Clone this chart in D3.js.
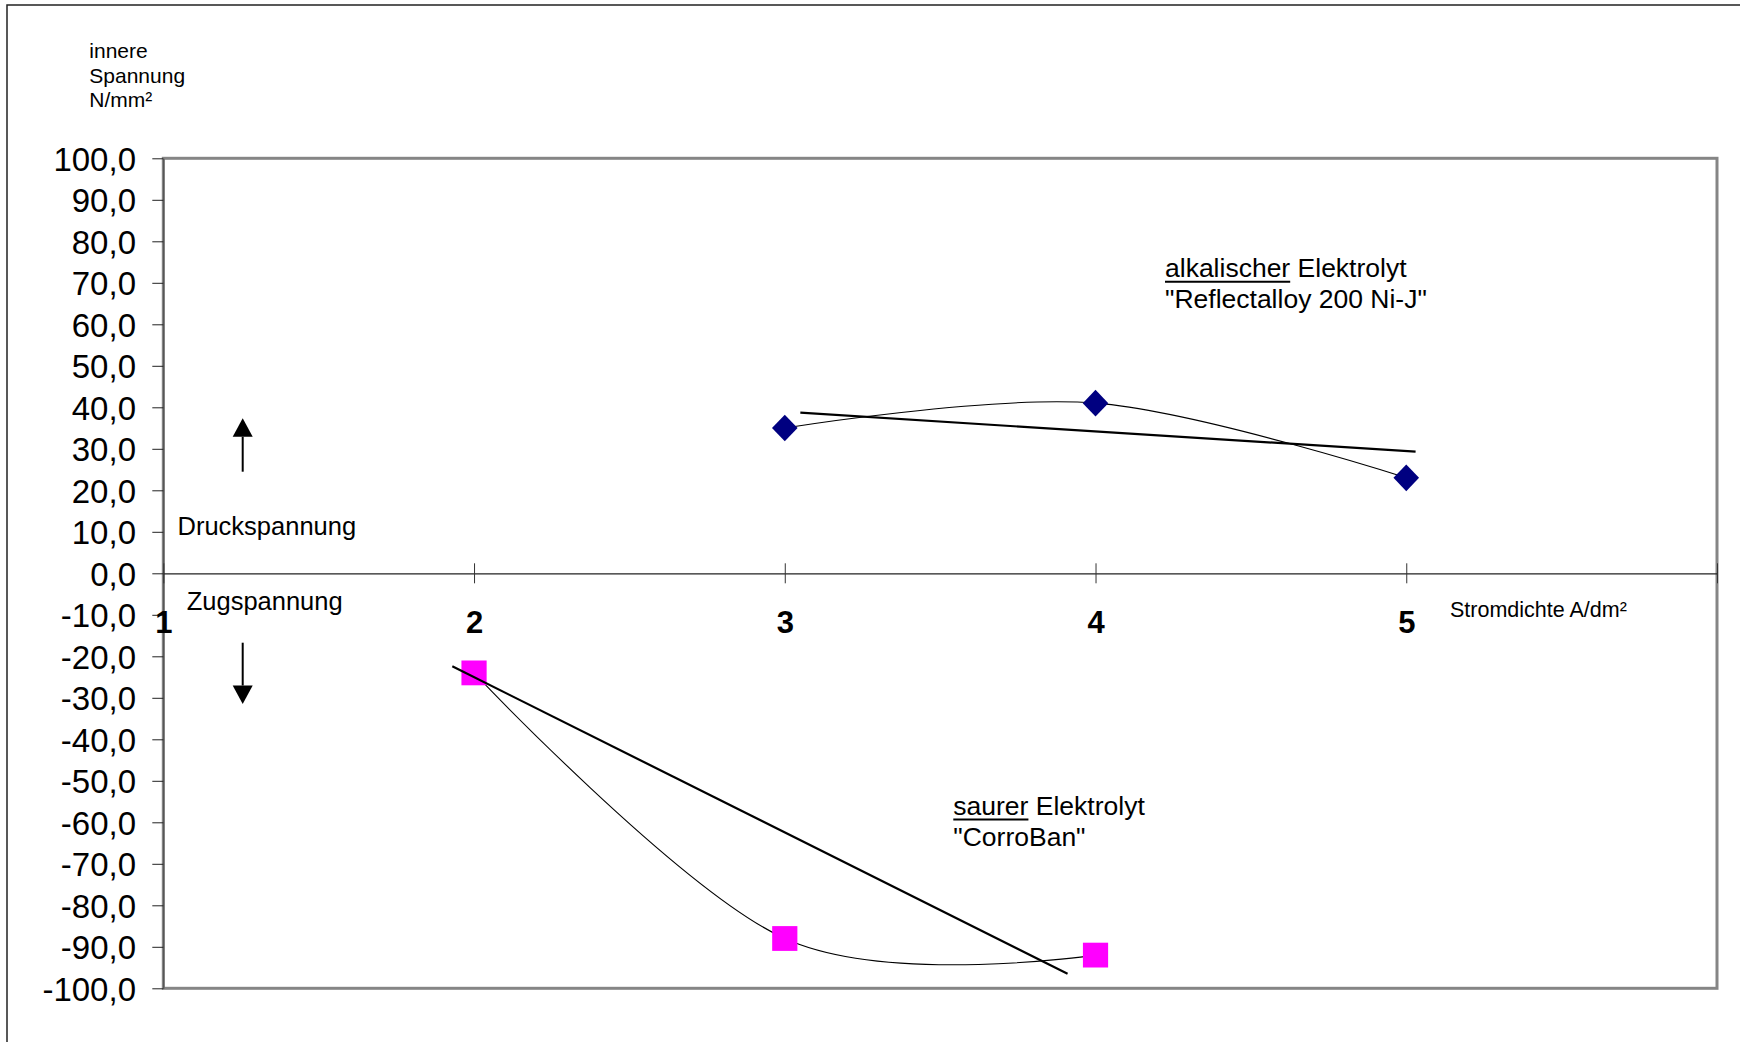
<!DOCTYPE html>
<html>
<head>
<meta charset="utf-8">
<script src="https://cdn.jsdelivr.net/npm/d3@7"></script>
<style>
  html, body { margin: 0; padding: 0; background: #fff; }
  svg { display: block; }
  text { font-family: "Liberation Sans", Arial, sans-serif; fill: #000; }
</style>
</head>
<body>
<svg id="chart" width="1740" height="1042"></svg>
<script>
// Current density categories (x) and tick values
const xTickValues = [1, 2, 3, 4, 5, 6];
const xTickLabels = ["1", "2", "3", "4", "5", ""];
const yTickValues = [-100, -90, -80, -70, -60, -50, -40, -30, -20, -10, 0, 10, 20, 30, 40, 50, 60, 70, 80, 90, 100];

// Alkaline electrolyte "Reflectalloy 200 Ni-J"
const alkX = [3, 4, 5];
const alkY = [35, 41, 23];
const alkTrend = [[3.05, 38.7], [5.03, 29.3]];

// Acid electrolyte "CorroBan"
const saurX = [2, 3, 4];
const saurY = [-24, -88, -92];
const saurTrend = [[1.93, -22.4], [3.91, -96.5]];

const svg = d3.select("#chart");

const plot = { left: 163.3, right: 1717, top: 158.3, bottom: 988.3 };
const x = d3.scaleLinear().domain([1, 6]).range([plot.left, plot.right]);
const y = d3.scaleLinear().domain([-100, 100]).range([plot.bottom, plot.top]);

const de = d3.formatLocale({ decimal: ",", thousands: ".", grouping: [3], currency: ["", " €"], minus: "-" });
const fmt = de.format(".1f");

// Outer frame of the figure (right and bottom edges run off the page)
svg.append("rect")
  .attr("x", 7).attr("y", 5)
  .attr("width", 1760).attr("height", 1060)
  .attr("fill", "none").attr("stroke", "#222").attr("stroke-width", 1.5);

// Plot area frame
svg.append("rect")
  .attr("x", plot.left).attr("y", plot.top)
  .attr("width", plot.right - plot.left).attr("height", plot.bottom - plot.top)
  .attr("fill", "none").attr("stroke", "#858585").attr("stroke-width", 3);

// Y axis
const yAxis = svg.append("g")
  .attr("transform", `translate(${plot.left},0)`)
  .call(d3.axisLeft(y).tickValues(yTickValues).tickFormat(fmt).tickSize(11).tickSizeOuter(0).tickPadding(16.3));
yAxis.select(".domain").attr("stroke", "#444").attr("stroke-width", 1);
yAxis.selectAll(".tick line").attr("stroke", "#222");
yAxis.selectAll(".tick text")
  .style("font-family", "'Liberation Sans', Arial, sans-serif")
  .style("font-size", "33px")
  .attr("dy", "0.36em");

// X axis through zero, ticks crossing the line
const xAxis = svg.append("g")
  .attr("transform", `translate(0,${y(0)})`)
  .call(d3.axisBottom(x).tickValues(xTickValues)
    .tickFormat((d, i) => xTickLabels[i]).tickSize(10).tickSizeOuter(0));
xAxis.select(".domain").attr("stroke", "#222").attr("stroke-width", 1.2);
xAxis.selectAll(".tick line").attr("y1", -10).attr("y2", 10).attr("stroke", "#333");
xAxis.selectAll(".tick text")
  .style("font-family", "'Liberation Sans', Arial, sans-serif")
  .style("font-size", "31px")
  .style("font-weight", "bold")
  .attr("y", 59.4).attr("dy", 0);

// Axis titles
const yTitle = svg.append("text").attr("x", 89.3).attr("y", 58.3).style("font-size", "21px");
["innere", "Spannung", "N/mm²"].forEach((t, i) => {
  yTitle.append("tspan").attr("x", 89.3).attr("y", 58.3 + i * 24.5).text(t);
});
svg.append("text").attr("x", 1450).attr("y", 617).style("font-size", "21.5px").text("Stromdichte A/dm²");

// Stress direction hints
svg.append("text").attr("x", 177.5).attr("y", 535).style("font-size", "25.5px").text("Druckspannung");
svg.append("text").attr("x", 186.7).attr("y", 610).style("font-size", "25.5px").text("Zugspannung");

function arrow(xc, yFrom, yTip, dir) {
  const headLen = 18.5, half = 10;
  svg.append("line")
    .attr("x1", xc).attr("x2", xc)
    .attr("y1", yFrom).attr("y2", yTip - dir * headLen)
    .attr("stroke", "#000").attr("stroke-width", 2);
  svg.append("path")
    .attr("d", `M${xc},${yTip} L${xc - half},${yTip - dir * headLen} L${xc + half},${yTip - dir * headLen} Z`)
    .attr("fill", "#000");
}
arrow(242.7, 471.7, 418.3, -1);
arrow(242.7, 642.7, 704, 1);

// Smoothed connecting lines through the measurements
const smooth = d3.line().x(d => x(d[0])).y(d => y(d[1])).curve(d3.curveCardinal.tension(0));
const alkPts = alkX.map((v, i) => [v, alkY[i]]);
const saurPts = saurX.map((v, i) => [v, saurY[i]]);

svg.append("path").attr("d", smooth(alkPts))
  .attr("fill", "none").attr("stroke", "#000").attr("stroke-width", 1.1);
svg.append("path").attr("d", smooth(saurPts))
  .attr("fill", "none").attr("stroke", "#000").attr("stroke-width", 1.1);

// Markers
svg.append("g").selectAll("path").data(alkPts).join("path")
  .attr("transform", d => `translate(${x(d[0])},${y(d[1])})`)
  .attr("d", "M0,-13.3 L12.8,0 L0,13.3 L-12.8,0 Z")
  .attr("fill", "#000080");

svg.append("g").selectAll("rect").data(saurPts).join("rect")
  .attr("x", d => x(d[0]) - 12.6).attr("y", d => y(d[1]) - 12.4)
  .attr("width", 25.2).attr("height", 24.8)
  .attr("fill", "#FF00FF");

// Linear trend lines
const straight = d3.line().x(d => x(d[0])).y(d => y(d[1]));
svg.append("path").attr("d", straight(alkTrend))
  .attr("fill", "none").attr("stroke", "#000").attr("stroke-width", 2.2);
svg.append("path").attr("d", straight(saurTrend))
  .attr("fill", "none").attr("stroke", "#000").attr("stroke-width", 2.2);

// Series annotations with underlined first word
function note(xp, y1, first, rest, line2) {
  const t = svg.append("text").attr("x", xp).attr("y", y1).style("font-size", "26.5px");
  const u = t.append("tspan").text(first);
  t.append("tspan").text(" " + rest);
  const w = u.node().getComputedTextLength();
  svg.append("line")
    .attr("x1", xp).attr("x2", xp + w)
    .attr("y1", y1 + 4.5).attr("y2", y1 + 4.5)
    .attr("stroke", "#000").attr("stroke-width", 2);
  svg.append("text").attr("x", xp).attr("y", y1 + 30.5).style("font-size", "26.5px").text(line2);
}
note(1165, 277.3, "alkalischer", "Elektrolyt", "\"Reflectalloy 200 Ni-J\"");
note(953.3, 815, "saurer", "Elektrolyt", "\"CorroBan\"");
</script>
</body>
</html>
